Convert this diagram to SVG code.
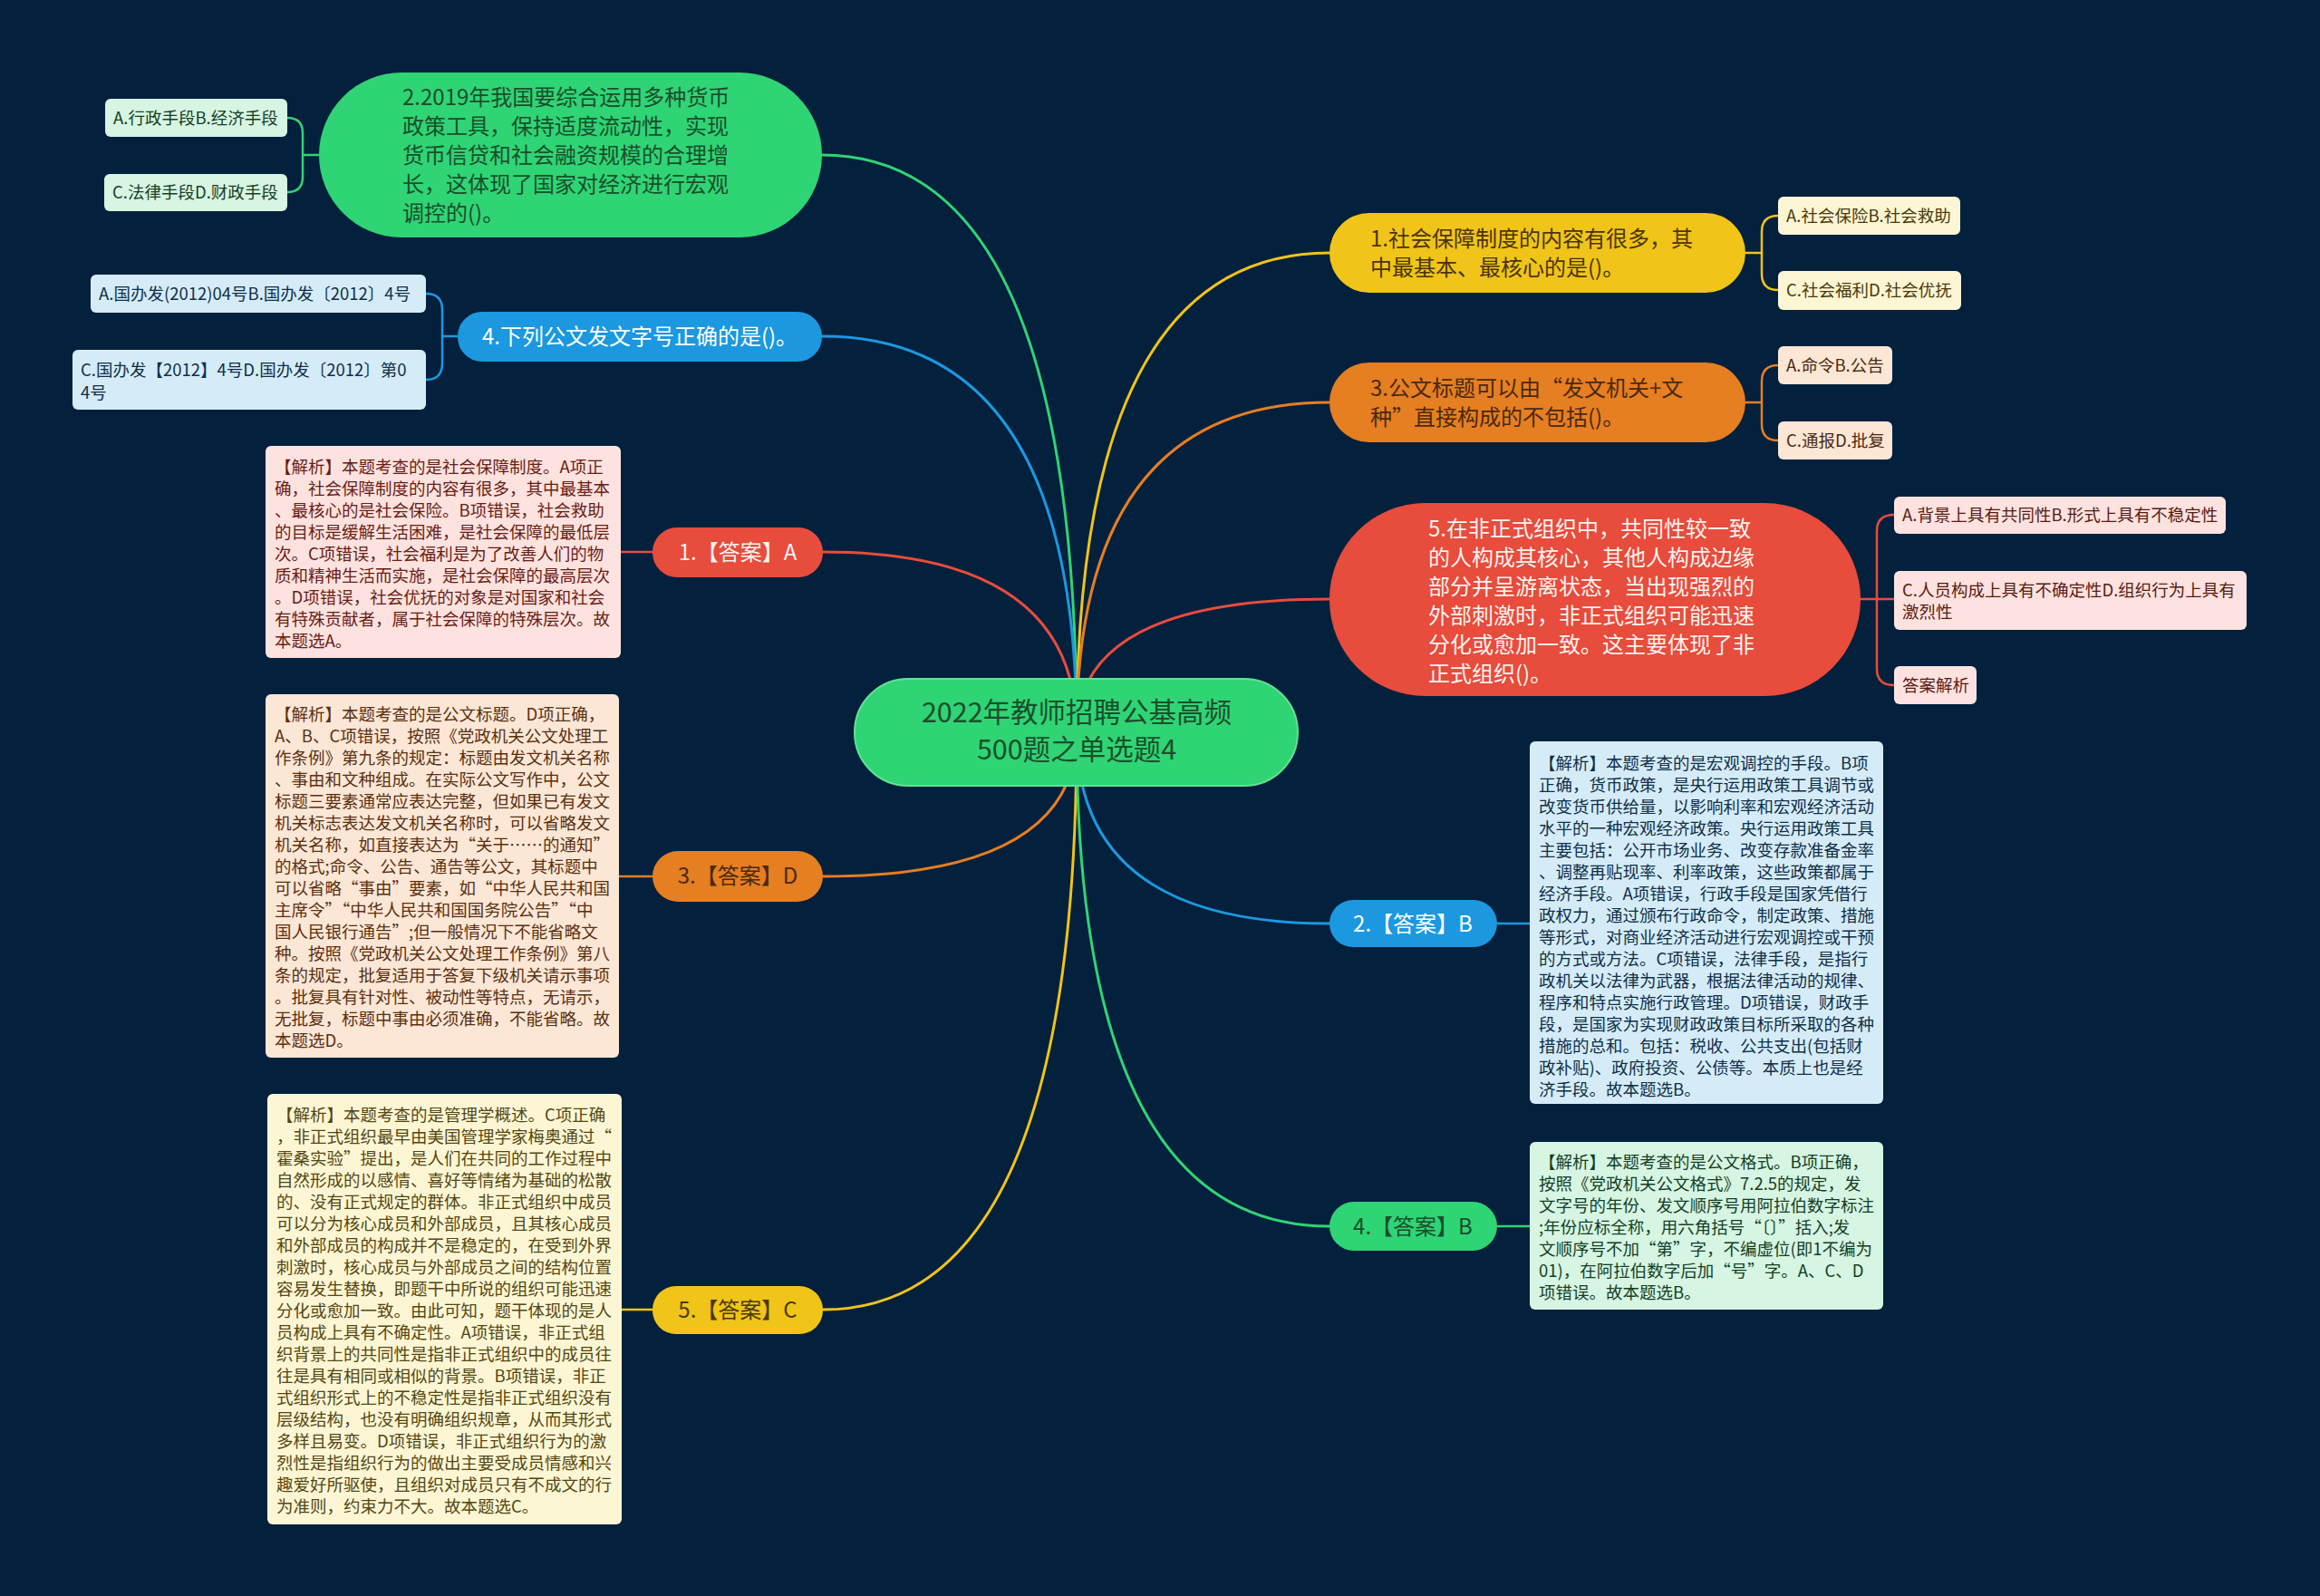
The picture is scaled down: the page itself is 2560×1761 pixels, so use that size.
<svg xmlns="http://www.w3.org/2000/svg" width="2560" height="1761" viewBox="0 0 2560 1761">
<style>
text{font-family:"Noto Sans CJK SC","Noto Sans",sans-serif;}
.q{font-size:24px;}
.opt{font-size:18.5px;}
.exp{font-size:18.5px;}
.ans{font-size:24px;text-anchor:middle;}
.ln{fill:none;stroke-width:3;stroke-linecap:round;}
.br{fill:none;stroke-width:2.5;}
</style>
<rect width="2560" height="1761" fill="#03203d"/>
<g id="connectors">
<path class="ln" stroke="#2fd475" d="M1188 808 Q1188 171 907 171"/>
<path class="ln" stroke="#1b98e0" d="M1188 808 Q1188 371 907 371"/>
<path class="ln" stroke="#e74c3c" d="M1188 808 Q1188 609 908 609"/>
<path class="ln" stroke="#e67e22" d="M1188 808 Q1188 967 908 967"/>
<path class="ln" stroke="#f0c419" d="M1188 808 Q1188 1445 908 1445"/>
<path class="ln" stroke="#f0c419" d="M1188 808 Q1188 279 1467 279"/>
<path class="ln" stroke="#e67e22" d="M1188 808 Q1188 444 1467 444"/>
<path class="ln" stroke="#e74c3c" d="M1188 808 Q1188 661 1467 661"/>
<path class="ln" stroke="#1b98e0" d="M1188 808 Q1188 1019 1467 1019"/>
<path class="ln" stroke="#2fd475" d="M1188 808 Q1188 1353 1467 1353"/>
<path class="br" stroke="#2fd475" d="M352 171 H334 M317 130 Q334 130 334 147 V195 Q334 212 317 212"/>
<path class="br" stroke="#1b98e0" d="M505 371 H488 M470 324 Q488 324 488 342 V401 Q488 419 470 419"/>
<path class="br" stroke="#f0c419" d="M1926 279 H1944 M1962 238 Q1944 238 1944 256 V302 Q1944 320 1962 320"/>
<path class="br" stroke="#e67e22" d="M1926 444 H1944 M1962 403 Q1944 403 1944 421 V468 Q1944 486 1962 486"/>
<path class="br" stroke="#e74c3c" d="M2053 661 H2090 M2090 568 Q2071 568 2071 586 V738 Q2071 756 2090 756"/>
<path class="br" stroke="#e74c3c" d="M720 609 H685"/>
<path class="br" stroke="#e67e22" d="M720 967 H683"/>
<path class="br" stroke="#f0c419" d="M720 1445 H686"/>
<path class="br" stroke="#1b98e0" d="M1652 1019 H1688"/>
<path class="br" stroke="#2fd475" d="M1652 1353 H1688"/>
</g>
<g id="root">
<rect x="943" y="749" width="489" height="118" rx="59" fill="#2fd475" stroke="#5fe394" stroke-width="2"/>
<text font-size="30.5" text-anchor="middle" fill="#1a4f2c"><tspan x="1188" y="797">2022年教师招聘公基高频</tspan><tspan x="1188" y="838">500题之单选题4</tspan></text>
</g>
<g id="q2">
<rect x="352" y="80" width="555" height="182" rx="91" fill="#2fd475"/>
<text class="q" fill="#1a4f2c"><tspan x="444" y="116">2.2019年我国要综合运用多种货币</tspan><tspan x="444" y="148">政策工具，保持适度流动性，实现</tspan><tspan x="444" y="180">货币信贷和社会融资规模的合理增</tspan><tspan x="444" y="212">长，这体现了国家对经济进行宏观</tspan><tspan x="444" y="244">调控的()。</tspan></text>
</g>
<g id="q2a"><rect x="116" y="109" width="201" height="42" rx="6" fill="#d6f5e2"/><text class="opt" x="125" y="137" fill="#173f27">A.行政手段B.经济手段</text></g>
<g id="q2c"><rect x="115" y="192" width="202" height="41" rx="6" fill="#d6f5e2"/><text class="opt" x="124" y="219" fill="#173f27">C.法律手段D.财政手段</text></g>
<g id="q4">
<rect x="505" y="344" width="402" height="55" rx="27" fill="#1b98e0"/>
<text class="q" x="706" y="380" text-anchor="middle" fill="#ffffff">4.下列公文发文字号正确的是()。</text>
</g>
<g id="q4a"><rect x="100" y="303" width="370" height="42" rx="6" fill="#d5ecf8"/><text class="opt" x="109" y="331" fill="#0f2f4a">A.国办发(2012)04号B.国办发〔2012〕4号</text></g>
<g id="q4c"><rect x="80" y="386" width="390" height="66" rx="6" fill="#d5ecf8"/><text class="opt" fill="#0f2f4a"><tspan x="89" y="415">C.国办发【2012】4号D.国办发〔2012〕第0</tspan><tspan x="89" y="440">4号</tspan></text></g>
<g id="a1">
<rect x="720" y="582" width="188" height="55" rx="27" fill="#e74c3c"/>
<text class="ans" x="814" y="618" fill="#fff2ef">1.【答案】A</text>
</g>
<g id="e1">
<rect x="293" y="492" width="392" height="234" rx="6" fill="#fde2df"/>
<text class="exp" fill="#6a1d14"><tspan x="303" y="522">【解析】本题考查的是社会保障制度。A项正</tspan><tspan x="303" y="546">确，社会保障制度的内容有很多，其中最基本</tspan><tspan x="303" y="570">、最核心的是社会保险。B项错误，社会救助</tspan><tspan x="303" y="594">的目标是缓解生活困难，是社会保障的最低层</tspan><tspan x="303" y="618">次。C项错误，社会福利是为了改善人们的物</tspan><tspan x="303" y="642">质和精神生活而实施，是社会保障的最高层次</tspan><tspan x="303" y="666">。D项错误，社会优抚的对象是对国家和社会</tspan><tspan x="303" y="690">有特殊贡献者，属于社会保障的特殊层次。故</tspan><tspan x="303" y="714">本题选A。</tspan></text>
</g>
<g id="a3">
<rect x="720" y="939" width="188" height="56" rx="28" fill="#e67e22"/>
<text class="ans" x="814" y="975" fill="#4a2a0e">3.【答案】D</text>
</g>
<g id="e3">
<rect x="293" y="766" width="390" height="401" rx="6" fill="#fce6d6"/>
<text class="exp" fill="#5a300e"><tspan x="303" y="795">【解析】本题考查的是公文标题。D项正确，</tspan><tspan x="303" y="819">A、B、C项错误，按照《党政机关公文处理工</tspan><tspan x="303" y="843">作条例》第九条的规定：标题由发文机关名称</tspan><tspan x="303" y="867">、事由和文种组成。在实际公文写作中，公文</tspan><tspan x="303" y="891">标题三要素通常应表达完整，但如果已有发文</tspan><tspan x="303" y="915">机关标志表达发文机关名称时，可以省略发文</tspan><tspan x="303" y="939">机关名称，如直接表达为“关于……的通知”</tspan><tspan x="303" y="963">的格式;命令、公告、通告等公文，其标题中</tspan><tspan x="303" y="987">可以省略“事由”要素，如“中华人民共和国</tspan><tspan x="303" y="1011">主席令”“中华人民共和国国务院公告”“中</tspan><tspan x="303" y="1035">国人民银行通告”;但一般情况下不能省略文</tspan><tspan x="303" y="1059">种。按照《党政机关公文处理工作条例》第八</tspan><tspan x="303" y="1083">条的规定，批复适用于答复下级机关请示事项</tspan><tspan x="303" y="1107">。批复具有针对性、被动性等特点，无请示，</tspan><tspan x="303" y="1131">无批复，标题中事由必须准确，不能省略。故</tspan><tspan x="303" y="1155">本题选D。</tspan></text>
</g>
<g id="a5">
<rect x="720" y="1419" width="188" height="53" rx="26" fill="#f0c419"/>
<text class="ans" x="814" y="1454" fill="#4a3a08">5.【答案】C</text>
</g>
<g id="e5">
<rect x="295" y="1207" width="391" height="475" rx="6" fill="#fdf6d5"/>
<text class="exp" fill="#54470f"><tspan x="305" y="1237">【解析】本题考查的是管理学概述。C项正确</tspan><tspan x="305" y="1261">，非正式组织最早由美国管理学家梅奥通过“</tspan><tspan x="305" y="1285">霍桑实验”提出，是人们在共同的工作过程中</tspan><tspan x="305" y="1309">自然形成的以感情、喜好等情绪为基础的松散</tspan><tspan x="305" y="1333">的、没有正式规定的群体。非正式组织中成员</tspan><tspan x="305" y="1357">可以分为核心成员和外部成员，且其核心成员</tspan><tspan x="305" y="1381">和外部成员的构成并不是稳定的，在受到外界</tspan><tspan x="305" y="1405">刺激时，核心成员与外部成员之间的结构位置</tspan><tspan x="305" y="1429">容易发生替换，即题干中所说的组织可能迅速</tspan><tspan x="305" y="1453">分化或愈加一致。由此可知，题干体现的是人</tspan><tspan x="305" y="1477">员构成上具有不确定性。A项错误，非正式组</tspan><tspan x="305" y="1501">织背景上的共同性是指非正式组织中的成员往</tspan><tspan x="305" y="1525">往是具有相同或相似的背景。B项错误，非正</tspan><tspan x="305" y="1549">式组织形式上的不稳定性是指非正式组织没有</tspan><tspan x="305" y="1573">层级结构，也没有明确组织规章，从而其形式</tspan><tspan x="305" y="1597">多样且易变。D项错误，非正式组织行为的激</tspan><tspan x="305" y="1621">烈性是指组织行为的做出主要受成员情感和兴</tspan><tspan x="305" y="1645">趣爱好所驱使，且组织对成员只有不成文的行</tspan><tspan x="305" y="1669">为准则，约束力不大。故本题选C。</tspan></text>
</g>
<g id="q1">
<rect x="1467" y="235" width="459" height="88" rx="44" fill="#f0c419"/>
<text class="q" fill="#4a3506"><tspan x="1512" y="272">1.社会保障制度的内容有很多，其</tspan><tspan x="1512" y="304">中最基本、最核心的是()。</tspan></text>
</g>
<g id="q1a"><rect x="1962" y="217" width="201" height="42" rx="6" fill="#fdf6d5"/><text class="opt" x="1971" y="245" fill="#4a3a08">A.社会保险B.社会救助</text></g>
<g id="q1c"><rect x="1962" y="299" width="202" height="43" rx="6" fill="#fdf6d5"/><text class="opt" x="1971" y="327" fill="#4a3a08">C.社会福利D.社会优抚</text></g>
<g id="q3">
<rect x="1467" y="400" width="459" height="88" rx="44" fill="#e67e22"/>
<text class="q" fill="#4a2a0e"><tspan x="1512" y="437">3.公文标题可以由“发文机关+文</tspan><tspan x="1512" y="469">种”直接构成的不包括()。</tspan></text>
</g>
<g id="q3a"><rect x="1962" y="382" width="126" height="42" rx="6" fill="#fce6d6"/><text class="opt" x="1971" y="410" fill="#4a2a0e">A.命令B.公告</text></g>
<g id="q3c"><rect x="1962" y="465" width="126" height="42" rx="6" fill="#fce6d6"/><text class="opt" x="1971" y="493" fill="#4a2a0e">C.通报D.批复</text></g>
<g id="q5">
<rect x="1467" y="555" width="586" height="213" rx="106" fill="#e74c3c"/>
<text class="q" fill="#fff2ef"><tspan x="1576" y="592">5.在非正式组织中，共同性较一致</tspan><tspan x="1576" y="624">的人构成其核心，其他人构成边缘</tspan><tspan x="1576" y="656">部分并呈游离状态，当出现强烈的</tspan><tspan x="1576" y="688">外部刺激时，非正式组织可能迅速</tspan><tspan x="1576" y="720">分化或愈加一致。这主要体现了非</tspan><tspan x="1576" y="752">正式组织()。</tspan></text>
</g>
<g id="q5a"><rect x="2090" y="548" width="366" height="41" rx="6" fill="#fde2df"/><text class="opt" x="2099" y="575" fill="#5a1a12">A.背景上具有共同性B.形式上具有不稳定性</text></g>
<g id="q5c"><rect x="2090" y="630" width="389" height="65" rx="6" fill="#fde2df"/><text class="opt" fill="#5a1a12"><tspan x="2099" y="658">C.人员构成上具有不确定性D.组织行为上具有</tspan><tspan x="2099" y="682">激烈性</tspan></text></g>
<g id="q5d"><rect x="2090" y="735" width="91" height="42" rx="6" fill="#fde2df"/><text class="opt" x="2099" y="763" fill="#5a1a12">答案解析</text></g>
<g id="a2">
<rect x="1467" y="993" width="185" height="52" rx="26" fill="#1b98e0"/>
<text class="ans" x="1559" y="1028" fill="#ffffff">2.【答案】B</text>
</g>
<g id="e2">
<rect x="1688" y="818" width="390" height="400" rx="6" fill="#d5ecf8"/>
<text class="exp" fill="#0f2f4a"><tspan x="1698" y="849">【解析】本题考查的是宏观调控的手段。B项</tspan><tspan x="1698" y="873">正确，货币政策，是央行运用政策工具调节或</tspan><tspan x="1698" y="897">改变货币供给量，以影响利率和宏观经济活动</tspan><tspan x="1698" y="921">水平的一种宏观经济政策。央行运用政策工具</tspan><tspan x="1698" y="945">主要包括：公开市场业务、改变存款准备金率</tspan><tspan x="1698" y="969">、调整再贴现率、利率政策，这些政策都属于</tspan><tspan x="1698" y="993">经济手段。A项错误，行政手段是国家凭借行</tspan><tspan x="1698" y="1017">政权力，通过颁布行政命令，制定政策、措施</tspan><tspan x="1698" y="1041">等形式，对商业经济活动进行宏观调控或干预</tspan><tspan x="1698" y="1065">的方式或方法。C项错误，法律手段，是指行</tspan><tspan x="1698" y="1089">政机关以法律为武器，根据法律活动的规律、</tspan><tspan x="1698" y="1113">程序和特点实施行政管理。D项错误，财政手</tspan><tspan x="1698" y="1137">段，是国家为实现财政政策目标所采取的各种</tspan><tspan x="1698" y="1161">措施的总和。包括：税收、公共支出(包括财</tspan><tspan x="1698" y="1185">政补贴)、政府投资、公债等。本质上也是经</tspan><tspan x="1698" y="1209">济手段。故本题选B。</tspan></text>
</g>
<g id="a4">
<rect x="1467" y="1326" width="185" height="54" rx="27" fill="#2fd475"/>
<text class="ans" x="1559" y="1362" fill="#1a4f2c">4.【答案】B</text>
</g>
<g id="e4">
<rect x="1688" y="1260" width="390" height="185" rx="6" fill="#d6f5e2"/>
<text class="exp" fill="#123f25"><tspan x="1698" y="1289">【解析】本题考查的是公文格式。B项正确，</tspan><tspan x="1698" y="1313">按照《党政机关公文格式》7.2.5的规定，发</tspan><tspan x="1698" y="1337">文字号的年份、发文顺序号用阿拉伯数字标注</tspan><tspan x="1698" y="1361">;年份应标全称，用六角括号“〔〕”括入;发</tspan><tspan x="1698" y="1385">文顺序号不加“第”字，不编虚位(即1不编为</tspan><tspan x="1698" y="1409">01)，在阿拉伯数字后加“号”字。A、C、D</tspan><tspan x="1698" y="1433">项错误。故本题选B。</tspan></text>
</g>
</svg>
